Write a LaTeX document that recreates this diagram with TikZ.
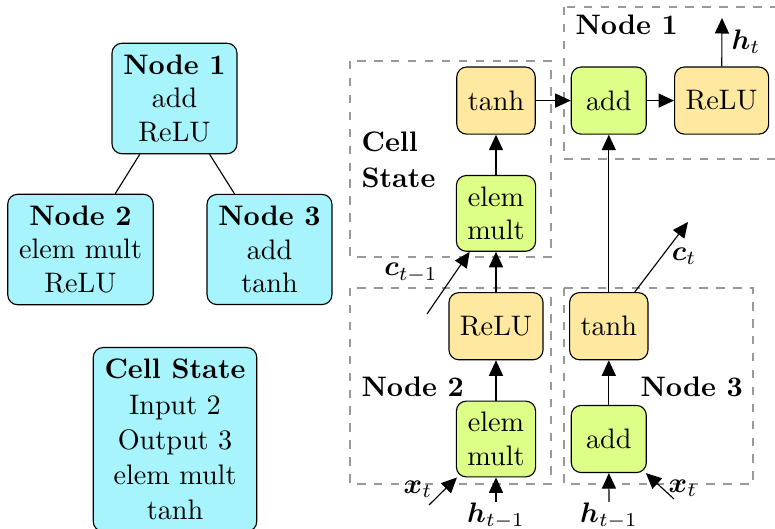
\documentclass[tikz,border=0pt]{standalone}
\usepackage{amsmath}
\usetikzlibrary{arrows.meta}
\definecolor{treecyan}{HTML}{A8F4FC}
\definecolor{opgreen}{HTML}{DDFF88}
\definecolor{actyellow}{HTML}{FFE9A0}
\begin{document}
\begin{tikzpicture}[
		x=0.3546pt, y=-0.3546pt,
		node distance=40pt,
		>={Triangle[length=5.5pt,width=5pt]},
		treebox/.style={rectangle,rounded corners=3.5pt,draw,fill=treecyan,align=center,inner sep=4pt},
		opbox/.style={rectangle,rounded corners=3.5pt,draw,fill=opgreen,align=center,inner sep=3.9pt,minimum width=26.6pt,minimum height=23.8pt},
		actbox/.style={opbox,fill=actyellow},
		groupbox/.style={draw=black!40,dashed},
		grouplabel/.style={inner sep=0pt,anchor=west,font=\bfseries,align=left},
		sym/.style={inner sep=0pt}
		]
		\useasboundingbox (0,0) rectangle (775,529);

		% tree of nodes
		\node[treebox](T1) at (174.5,98.5){\textbf{Node 1}\\add\\ReLU};
		\node[treebox](T2) at (80.5,249.5){\textbf{Node 2}\\elem mult\\ReLU};
		\node[treebox](T3) at (269.5,249.5){\textbf{Node 3}\\add\\tanh};
		\node[treebox, anchor=north](CS) at (175,347){\textbf{Cell State}\\[0.6pt]Input 2\\[0.5pt]Output 3\\[0.5pt]elem mult\\[0.5pt]tanh};
		\draw (T1) -- (T2);
		\draw (T1) -- (T3);

		% groups
		\draw[groupbox] (350,61) rectangle (551,257);
		\draw[groupbox] (564,7) rectangle (790,159);
		\draw[groupbox] (350,288) rectangle (551,484);
		\draw[groupbox] (564,288) rectangle (753,484);
		\node[grouplabel](L1) at (575,25){Node 1};
		\node[grouplabel, anchor=north west](LC) at (361,131){Cell\\[1pt]State};
		\node[grouplabel](L2) at (361,387){Node 2};
		\node[grouplabel](L3) at (640,387){Node 3};

		% cell
		\node[opbox](mul2) at (496,439){elem\\mult};
		\node[actbox, above of = mul2](relu2){ReLU};
		\node[opbox, above of = relu2](mulC){elem\\mult};
		\node[actbox, above of = mulC](tanhC){tanh};
		\node[opbox, right of = tanhC](add1){add};
		\node[actbox, right of = add1](relu1){ReLU};
		\node[opbox, right of = mul2](add3){add};
		\node[actbox, above of = add3](tanh3){tanh};

		% inputs and outputs
		\coordinate (htout) at (722,18);
		\coordinate (ctout) at (688,222);
		\coordinate (cprev) at (427,314);
		\coordinate (xin2) at (429,505);
		\coordinate (xin3) at (674,499);
		\node[sym](ht) at (746,42){$\boldsymbol{h}_t$};
		\node[sym](ct) at (684,256){$\boldsymbol{c}_t$};
		\node[sym](ctm) at (411,273){$\boldsymbol{c}_{t-1}$};
		\node[sym](xt2) at (418,489){$\boldsymbol{x}_t$};
		\node[sym](xt3) at (683,488){$\boldsymbol{x}_t$};
		\node[sym, anchor=north](hin2) at (496,502){$\boldsymbol{h}_{t-1}$};
		\node[sym, anchor=north](hin3) at (609,502){$\boldsymbol{h}_{t-1}$};

		\draw[->] (mul2) -- (relu2);
		\draw[->] (relu2) -- (mulC);
		\draw[->] (mulC) -- (tanhC);
		\draw[->] (tanhC) -- (add1);
		\draw[->] (add1) -- (relu1);
		\draw[->] (add3) -- (tanh3);
		\draw[->] (tanh3) -- (add1);
		\draw[->] (relu1) -- (htout);
		\draw[->] (tanh3) -- (ctout);
		\draw[->] (cprev) -- (mulC);
		\draw[->] (xin2) -- (mul2);
		\draw[->] (hin2) -- (mul2);
		\draw[->] (hin3) -- (add3);
		\draw[->] (xin3) -- (add3);

	\end{tikzpicture}
\end{document}
